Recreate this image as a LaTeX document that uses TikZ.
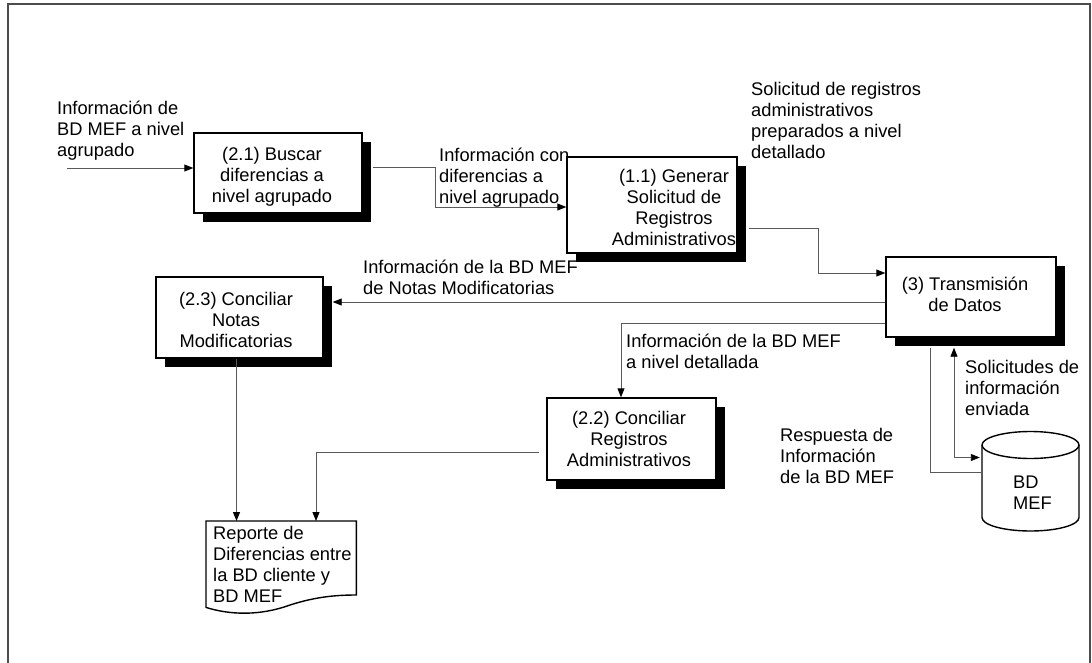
\documentclass[tikz,border=0pt]{standalone}
\usepackage{fontspec}
\setmainfont{Liberation Sans}
\usetikzlibrary{arrows.meta,calc,shadows}
\begin{document}
\begin{tikzpicture}[x=1pt,y=-1pt,
  txt/.style={font=\fontsize{18.3}{21}\selectfont, inner sep=0pt, execute at begin node=\strut, execute at end node=\strut},
  lbl/.style={txt, align=left, anchor=north west},
  ctxt/.style={txt, align=center},
  proc/.style={draw=black, line width=1.4pt, fill=white, inner sep=0pt,
    drop shadow={shadow xshift=9pt, shadow yshift=-9pt, fill=black, opacity=1}},
  conn/.style={draw=black!65, line width=0.9pt},
  tip/.style={-{Triangle[length=9pt,width=7pt,color=black]}},
  both/.style={{Triangle[length=9pt,width=7pt,color=black]}-{Triangle[length=9pt,width=7pt,color=black]}},
  shapeln/.style={draw=black, line width=1.4pt},
]
\useasboundingbox (0,0) rectangle (1092,663);
\fill[white] (0,0) rectangle (1092,663);
% frame
\draw[black!70, line width=1.2pt] (8,663) -- (8,4) -- (1090,4) -- (1090,663);

% process boxes
\node[proc, minimum width=168pt, minimum height=80pt] (b21) at (278,173) {};
\node[proc, minimum width=170pt, minimum height=96pt] (b11) at (652,205) {};
\node[proc, minimum width=170pt, minimum height=80pt] (b3) at (971,297) {};
\node[proc, minimum width=167pt, minimum height=81pt] (b23) at (239.5,317.5) {};
\node[proc, minimum width=169pt, minimum height=82pt] (b22) at (631.5,439) {};

\node[ctxt] (t21) at (272,178.5) {(2.1) Buscar\\diferencias a\\nivel agrupado};
\node[ctxt] (t11) at (674,210.5) {(1.1) Generar\\Solicitud de\\Registros\\Administrativos};
\node[ctxt] (t3) at (965,297.5) {(3) Transmisión\\de Datos};
\node[ctxt] (t23) at (236,323.5) {(2.3) Conciliar\\Notas\\Modificatorias};
\node[ctxt] (t22) at (629,442) {(2.2) Conciliar\\Registros\\Administrativos};

% report document
\node[minimum width=150pt, minimum height=86pt, inner sep=0pt, anchor=north west] (rep) at (206,521) {};
\draw[shapeln, fill=white] (rep.north west) -- (rep.north east) -- ++(0,74)
  .. controls (335,595) and (315,597) .. (290,605)
  .. controls (260,616) and (230,615) .. (rep.south west) -- cycle;
\node[lbl] (rept) at (213,526) {Reporte de\\Diferencias entre\\la BD cliente y\\BD MEF};

% database cylinder
\node[minimum width=97pt, minimum height=100pt, inner sep=0pt] (cyl) at (1030.5,481.5) {};
\fill[white] (982,445) -- (982,517.5) .. controls (982,525) and (1003.7,531) .. (1030.5,531)
  .. controls (1057.3,531) and (1079,525) .. (1079,517.5) -- (1079,445) -- cycle;
\draw[shapeln] (982,445) -- (982,517.5) .. controls (982,525) and (1003.7,531) .. (1030.5,531)
  .. controls (1057.3,531) and (1079,525) .. (1079,517.5) -- (1079,445);
\draw[shapeln, fill=white] (1030.5,445) ellipse [x radius=48.5pt, y radius=13.5pt];
\node[lbl] (cylt) at (1013,476) {BD\\MEF};

% connectors
\coordinate (in1) at (67,168);
\draw[conn,tip] (in1) -- (b21.west |- in1);
\draw[conn,tip] ($(b21.east)+(10,-6)$) -- (435,167) -- (435,207) -- ($(b11.west)+(0,2)$);
\draw[conn,tip] ($(b11.east)+(11,23)$) -- (818,228) -- (818,273) -- ($(b3.west)+(0,-24)$);
\draw[conn,tip] ($(b3.west)+(0,5)$) -- ($(b23.east)+(9,-15.5)$);
\draw[conn,tip] ($(b3.west)+(0,26)$) -| ($(b22.north)+(-10.5,0)$);
\draw[conn,tip] ($(b23.south)+(-3,0)$) -- ($(rep.north west)+(30.5,0)$);
\draw[conn,tip] ($(b22.west)+(-7,13)$) -| ($(rep.north west)+(110,0)$);
\draw[conn] ($(b3.south)+(-41,10)$) |- ($(cyl.west)+(0,-9.5)$);
\draw[conn,both] ($(b3.south)+(-17,10)$) |- ($(cyl.west)+(-2,-24)$);

% labels
\node[lbl] (l1) at (57,101) {Información de\\BD MEF a nivel\\agrupado};
\node[lbl] (l2) at (439,148) {Información con\\diferencias a\\nivel agrupado};
\node[lbl] (l3) at (751,82) {Solicitud de registros\\administrativos\\preparados a nivel\\detallado};
\node[lbl] (l4) at (363,260) {Información de la BD MEF\\de Notas Modificatorias};
\node[lbl] (l5) at (626,334) {Información de la BD MEF\\a nivel detallada};
\node[lbl] (l6) at (965,360) {Solicitudes de\\información\\enviada};
\node[lbl] (l7) at (780,428) {Respuesta de\\Información\\de la BD MEF};
\end{tikzpicture}
\end{document}
